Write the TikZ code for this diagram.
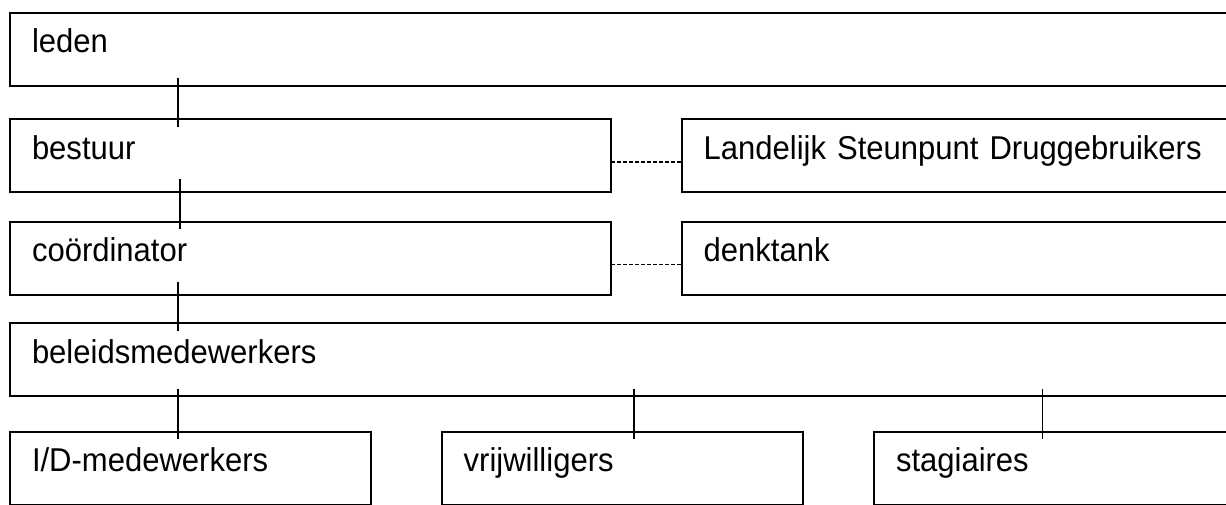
\documentclass[tikz,border=0pt]{standalone}
\usepackage{fontspec}
\setmainfont{Liberation Sans}[FakeStretch=0.94]
\usepackage{tikz}
\usetikzlibrary{arrows}

\begin{document}
\begin{tikzpicture}[x=1pt, y=-1pt, semithick,
		box/.style={draw, line width=2pt, anchor=north west, outer sep=0pt,
			inner xsep=22pt, inner ysep=0pt, text height=40pt, text depth=33pt,
			align=left, text width=#1, font=\fontsize{33pt}{40pt}\selectfont},
		link/.style={line width=1.2pt},
		loose/.style={line width=1.4pt, dash pattern=on 4pt off 2pt}]
		\useasboundingbox (0, 0) rectangle (1226, 504);
		
		\node[box=1186pt] (leden) at (10, 12.7) {leden};
		\node[box=557pt] (bestuur) at (10, 119.3) {bestuur};
		\node[box=514pt] (lsd) at (681.7, 119.3) {Landelijk Steunpunt Druggebruikers};
		\node[box=557pt] (coord) at (10, 221.7) {coördinator};
		\node[box=514pt] (denktank) at (681.7, 221.7) {denktank};
		\node[box=1186pt] (beleid) at (10, 323.3) {beleidsmedewerkers};
		\node[box=317pt] (idm) at (10, 431.7) {I/D-medewerkers};
		\node[box=317pt] (vrij) at (441.7, 431.7) {vrijwilligers};
		\node[box=322pt] (stag) at (874, 431.7) {stagiaires};
		
		\draw[link] ([xshift=168pt, yshift=8pt]leden.south west) -- ([xshift=168pt, yshift=-8pt]bestuur.north west);
		\draw[link] ([xshift=170pt, yshift=13pt]bestuur.south west) -- ([xshift=170pt, yshift=-7pt]coord.north west);
		\draw[link] ([xshift=168pt, yshift=13pt]coord.south west) -- ([xshift=168pt, yshift=-8pt]beleid.north west);
		\draw[link] ([xshift=168pt, yshift=7pt]beleid.south west) -- ([xshift=168pt, yshift=-7pt]idm.north west);
		\draw[link] ([xshift=192.3pt, yshift=7pt]beleid.south west -| vrij.north west) -- ([xshift=192.3pt, yshift=-7pt]vrij.north west);
		\draw[link] ([xshift=168.3pt, yshift=7pt]beleid.south west -| stag.north west) -- ([xshift=168.3pt, yshift=-7pt]stag.north west);
		
		\draw[loose] ([yshift=-6pt]bestuur.east) -- ([yshift=-6pt]lsd.west); % dotted link
		\draw[loose] ([yshift=-6pt]coord.east) -- ([yshift=-6pt]denktank.west);
	\end{tikzpicture}
\end{document}
